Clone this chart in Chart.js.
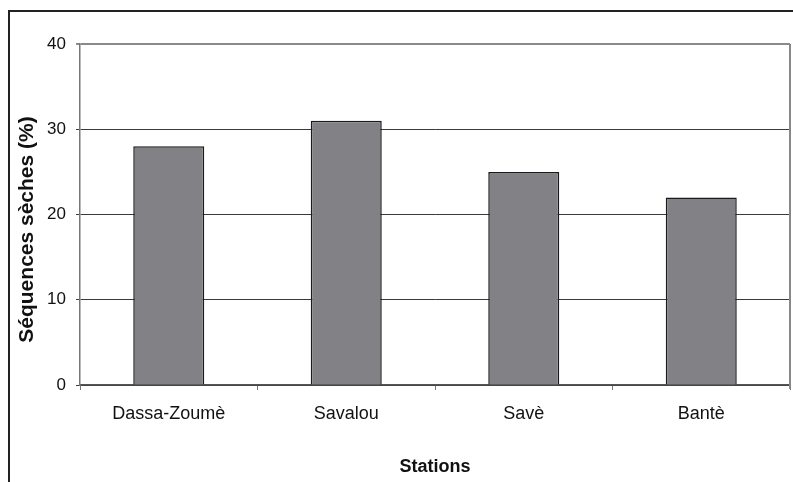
<!DOCTYPE html>
<html>
<head>
<meta charset="utf-8">
<script src="https://cdn.jsdelivr.net/npm/chart.js@4"></script>
<style>
  html, body { margin: 0; padding: 0; background: #fff; }
  #wrap { width: 793px; height: 482px; position: relative; }
</style>
</head>
<body>
<div id="wrap"><canvas id="c" width="793" height="482"></canvas></div>
<script>
// Dry sequences per station (%)
const stations = ["Dassa-Zoumè", "Savalou", "Savè", "Bantè"];
const drySequences = [28, 31, 25, 22];
const yTicks = [0, 10, 20, 30, 40];
const yTitle = "Séquences sèches (%)";
const xTitle = "Stations";

const FONT = "'Liberation Sans', Arial, sans-serif";

// Outer frame, the plot area's right edge and the vertical axis title
const framePlugin = {
  id: 'frame',
  beforeDraw(chart) {
    const ctx = chart.ctx;
    ctx.save();
    ctx.fillStyle = '#fff';
    ctx.fillRect(0, 0, chart.width, chart.height);
    ctx.strokeStyle = '#222';
    ctx.lineWidth = 2;
    ctx.strokeRect(9, 11, 1000, 1000);
    ctx.restore();
  },
  afterDatasetsDraw(chart) {
    const a = chart.chartArea;
    const ctx = chart.ctx;
    ctx.save();
    ctx.strokeStyle = '#888';
    ctx.lineWidth = 2;
    ctx.beginPath();
    ctx.moveTo(a.right, a.top);
    ctx.lineTo(a.right, a.bottom + 4);
    ctx.stroke();
    ctx.restore();
  },
  afterDraw(chart) {
    const a = chart.chartArea;
    const ctx = chart.ctx;
    ctx.save();
    ctx.translate(27, (a.top + a.bottom) / 2 + 15);
    ctx.rotate(-Math.PI / 2);
    ctx.fillStyle = '#111';
    ctx.font = "bold 21px " + FONT;
    ctx.textAlign = 'center';
    ctx.textBaseline = 'middle';
    ctx.fillText(yTitle, 0, 0);
    ctx.restore();
  }
};

new Chart(document.getElementById('c'), {
  type: 'bar',
  data: {
    labels: stations,
    datasets: [{
      data: drySequences,
      backgroundColor: '#818186',
      borderColor: '#1a1a1a',
      borderWidth: 1.5,
      barPercentage: 0.4,
      categoryPercentage: 1.0
    }]
  },
  options: {
    responsive: false,
    animation: false,
    devicePixelRatio: 1,
    layout: { padding: { left: 10, top: 44, right: 3, bottom: 0 } },
    plugins: { legend: { display: false }, tooltip: { enabled: false } },
    scales: {
      x: {
        afterFit(scale) { scale.height = 97; },
        grid: {
          offset: true,
          drawOnChartArea: false,
          tickLength: 5,
          color: '#777',
          lineWidth: 1
        },
        border: { color: '#555', width: 1.5 },
        ticks: {
          color: '#111',
          padding: 13,
          font: { family: FONT, size: 18 }
        },
        title: {
          display: true,
          text: xTitle,
          color: '#111',
          font: { family: FONT, size: 18, weight: 'bold' },
          padding: { top: 0, bottom: 4 }
        }
      },
      y: {
        min: 0,
        max: 40,
        afterFit(scale) { scale.width = 70; },
        afterBuildTicks(scale) { scale.ticks = yTicks.map(v => ({ value: v })); },
        grid: {
          color: ctx => (ctx.tick && ctx.tick.value === 40) ? '#8a8a8a' : '#3a3a3a',
          lineWidth: ctx => (ctx.tick && ctx.tick.value === 40) ? 2 : 1,
          tickLength: 4
        },
        border: { color: '#777', width: 1.5 },
        ticks: {
          color: '#111',
          padding: 10,
          font: { family: FONT, size: 17 }
        }
      }
    }
  },
  plugins: [framePlugin]
});
</script>
</body>
</html>
